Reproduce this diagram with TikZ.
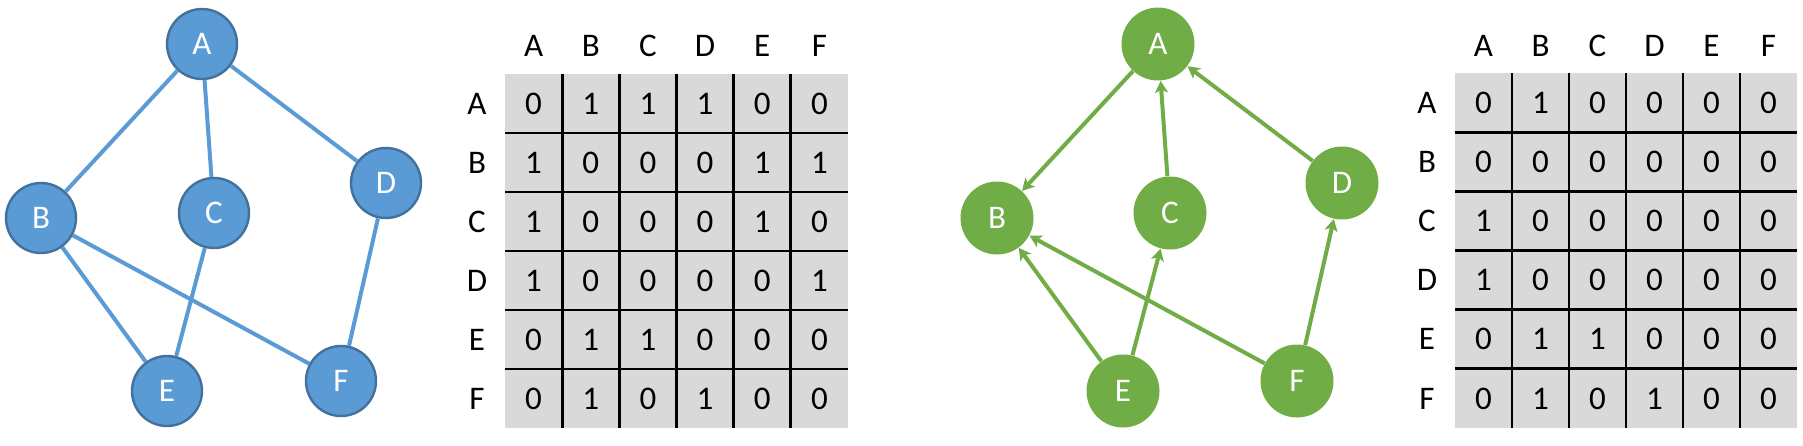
\documentclass[tikz,border=0pt]{standalone}
\usepackage{fontspec}
\setmainfont{Carlito}
\usetikzlibrary{arrows.meta}
\definecolor{bfill}{HTML}{5B9BD5}
\definecolor{bdraw}{HTML}{41719C}
\definecolor{gfill}{HTML}{70AD47}
\definecolor{cellgray}{HTML}{D9D9D9}
\begin{document}
\begin{tikzpicture}[x=0.5pt,y=-0.5pt,
  bnode/.style={circle,minimum size=35pt,inner sep=0pt,fill=bfill,draw=bdraw,line width=1.2pt,text=white,font=\fontsize{16.5}{19}\selectfont},
  gnode/.style={circle,minimum size=36.5pt,inner sep=0pt,fill=gfill,text=white,font=\fontsize{16.5}{19}\selectfont},
  bedge/.style={draw=bfill,line width=2pt},
  gedge/.style={draw=gfill,line width=2pt,-{Stealth[length=6pt,width=6.5pt,inset=1.5pt]}},
  lbl/.style={inner sep=0pt,font=\fontsize{16.5}{19}\selectfont},
  gridline/.style={draw=black,line width=1.4pt}]
\useasboundingbox (0,0) rectangle (1803,445);

% undirected graph
\node[bnode] (A1) at (202,44) {A};
\node[bnode] (B1) at (41,218) {B};
\node[bnode] (C1) at (214,213) {C};
\node[bnode] (D1) at (386,183) {D};
\node[bnode] (E1) at (167,391) {E};
\node[bnode] (F1) at (341,381) {F};
\path[bedge] (A1) -- (B1);
\path[bedge] (A1) -- (C1);
\path[bedge] (A1) -- (D1);
\path[bedge] (B1) -- (E1);
\path[bedge] (B1) -- (F1);
\path[bedge] (C1) -- (E1);
\path[bedge] (D1) -- (F1);

% directed graph
\node[gnode] (A2) at (1158,44) {A};
\node[gnode] (B2) at (997,218) {B};
\node[gnode] (C2) at (1170,213) {C};
\node[gnode] (D2) at (1342,183) {D};
\node[gnode] (E2) at (1123,391) {E};
\node[gnode] (F2) at (1297,381) {F};
\path[gedge] (A2) -- (B2);
\path[gedge] (C2) -- (A2);
\path[gedge] (D2) -- (A2);
\path[gedge] (E2) -- (B2);
\path[gedge] (E2) -- (C2);
\path[gedge] (F2) -- (B2);
\path[gedge] (F2) -- (D2);

% matrix 1
\fill[cellgray] (505,74) rectangle (848,428);
\foreach \i in {1,...,5} {
  \path[gridline] (505+\i*57.17,74) -- (505+\i*57.17,428);
  \path[gridline] (505,74+\i*59) -- (848,74+\i*59);
}
\foreach \L [count=\c] in {A,B,C,D,E,F} {
  \node[lbl] (m1h\c) at (505+\c*57.17-28.58,46) {\L};
  \node[lbl] (m1r\c) at (477,74+\c*59-29.5) {\L};
}
\foreach \row [count=\r] in {{0,1,1,1,0,0},{1,0,0,0,1,1},{1,0,0,0,1,0},{1,0,0,0,0,1},{0,1,1,0,0,0},{0,1,0,1,0,0}} {
  \foreach \v [count=\c] in \row {
    \node[lbl] (m1c\r\c) at (505+\c*57.17-28.58,74+\r*59-29.5) {\v};
  }
}

% matrix 2
\fill[cellgray] (1455,73) rectangle (1797,428);
\foreach \i in {1,...,5} {
  \path[gridline] (1455+\i*57,73) -- (1455+\i*57,428);
  \path[gridline] (1455,73+\i*59.17) -- (1797,73+\i*59.17);
}
\foreach \L [count=\c] in {A,B,C,D,E,F} {
  \node[lbl] (m2h\c) at (1455+\c*57-28.5,46) {\L};
  \node[lbl] (m2r\c) at (1427,73+\c*59.17-29.58) {\L};
}
\foreach \row [count=\r] in {{0,1,0,0,0,0},{0,0,0,0,0,0},{1,0,0,0,0,0},{1,0,0,0,0,0},{0,1,1,0,0,0},{0,1,0,1,0,0}} {
  \foreach \v [count=\c] in \row {
    \node[lbl] (m2c\r\c) at (1455+\c*57-28.5,73+\r*59.17-29.58) {\v};
  }
}
\end{tikzpicture}
\end{document}
